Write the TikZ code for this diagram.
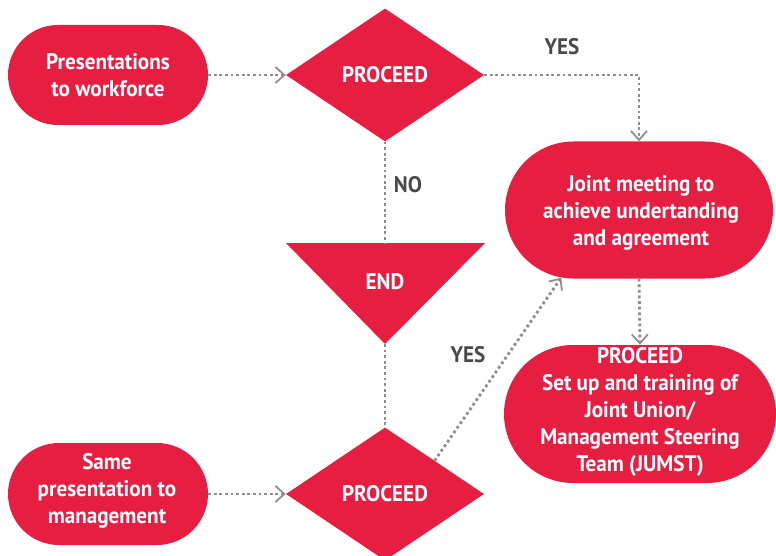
\documentclass[tikz,border=0pt]{standalone}
\usepackage{fontspec}
\setmainfont{PT Sans}[FakeStretch=0.94]
\usetikzlibrary{shapes.misc,shapes.geometric,arrows.meta}
\definecolor{brand}{HTML}{E61E42}
\definecolor{link}{HTML}{8E8E8E}
\definecolor{labelgray}{HTML}{4A4A4A}
\begin{document}
\begin{tikzpicture}[x=1pt,y=-1pt,
  every node/.style={font=\fontsize{22.5}{27}\selectfont\bfseries},
  pill/.style={rounded rectangle, fill=brand, inner sep=0pt},
  inside/.style={text=white, align=center, inner sep=0pt},
  decide/.style={diamond, fill=brand, text=white, inner sep=0pt, minimum width=198pt, minimum height=133pt},
  flow/.style={draw=link, line width=2.8pt, dash pattern=on 2.8pt off 2.8pt},
  tip/.style={-{Straight Barb[length=9pt,width=16pt,line width=1.8pt,color=link]}},
  answer/.style={text=labelgray}]
\useasboundingbox (0,0) rectangle (776,556);

% start boxes on the left
\node[pill, minimum width=200pt, minimum height=100pt] (work) at (108,75) {};
\node[inside] (worktext) at (work) {Presentations\\to workforce};
\node[pill, minimum width=200pt, minimum height=102pt] (mgmt) at (108,494) {};
\node[inside] (mgmttext) at (107,491) {Same\\presentation to\\management};

% decisions
\node[decide] (d1) at (385,75) {PROCEED};
\node[decide] (d2) at (385,494) {PROCEED};

% terminal triangle
\coordinate (endtop) at (385,243);
\coordinate (endapex) at (385,344);
\fill[brand] (286,243) -- (485,243) -- (endapex) -- cycle;
\node[text=white] (endn) at (385,282) {END};

% outcomes on the right
\node[pill, minimum width=268pt, minimum height=137pt] (meet) at (639,210) {};
\node[inside] (meettext) at (641,213) {Joint meeting to\\achieve undertanding\\and agreement};
\node[pill, minimum width=272pt, minimum height=138pt] (team) at (640,414) {};
\node[inside] (teamtext) at (640,412) {PROCEED\\Set up and training of\\Joint Union/\\Management Steering\\Team (JUMST)};

% connectors
\draw[flow, tip] (work.east) -- (d1.west);
\draw[flow, tip] (mgmt.east) -- (d2.west);
\draw[flow, tip] (d1.east) -| (meet.north);
\draw[flow] (d1.south) -- (endtop);
\draw[flow] (endapex) -- (d2.north);
\draw[flow, tip] (d2.north east) -- (meet.221);
\draw[flow, tip] (meet.south) -- (team.north);

% answer labels
\node[answer] (yes1) at (562,47) {YES};
\node[answer] (no1) at (408,185) {NO};
\node[answer] (yes2) at (468,355) {YES};
\end{tikzpicture}
\end{document}
